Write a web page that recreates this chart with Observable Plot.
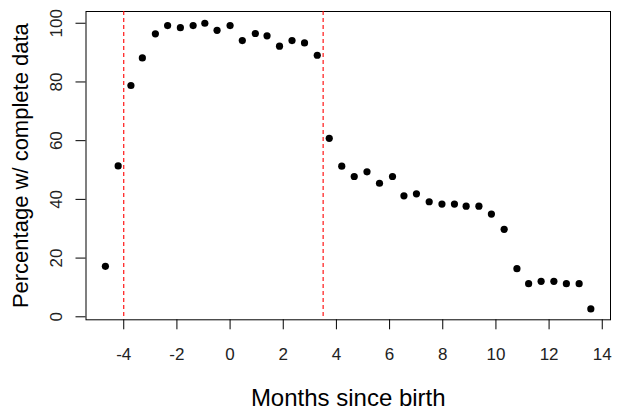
<!DOCTYPE html>
<html>
<head>
<meta charset="utf-8">
<script src="https://cdn.jsdelivr.net/npm/d3@7"></script>
<script src="https://cdn.jsdelivr.net/npm/@observablehq/plot@0.6"></script>
<style>
  html, body { margin: 0; padding: 0; background: #fff; }
  #chart svg { font-family: "Liberation Sans", Arial, sans-serif; }
  g[aria-label="x-axis label"] { font-size: 24px; fill: #000; }
  g[aria-label="y-axis label"] { font-size: 22px; fill: #000; }
</style>
</head>
<body>
<div id="chart"></div>
<script>
const months = [-4.69, -4.21, -3.73, -3.30, -2.81, -2.35, -1.87, -1.39, -0.95, -0.49,
  0.00, 0.46, 0.95, 1.39, 1.86, 2.33, 2.80, 3.28, 3.73, 4.20,
  4.67, 5.15, 5.62, 6.11, 6.54, 7.01, 7.49, 7.97, 8.44, 8.88,
  9.36, 9.83, 10.31, 10.79, 11.23, 11.70, 12.18, 12.65, 13.13, 13.57];
const percentComplete = [17.2, 51.4, 78.8, 88.2, 96.4, 99.2, 98.5, 99.2, 100.0, 97.6,
  99.2, 94.1, 96.5, 95.7, 92.2, 94.1, 93.3, 89.1, 60.8, 51.3,
  47.8, 49.4, 45.5, 47.8, 41.2, 41.9, 39.2, 38.4, 38.4, 37.7,
  37.7, 35.0, 29.8, 16.4, 11.3, 12.1, 12.1, 11.3, 11.3, 2.7];
const cutoffs = [-4, 3.5];
const xTicks = [-4, -2, 0, 2, 4, 6, 8, 10, 12, 14];
const yTicks = [0, 20, 40, 60, 80, 100];

const data = months.map((m, i) => ({month: m, pct: percentComplete[i]}));

const chart = Plot.plot({
  width: 622,
  height: 414,
  marginLeft: 85.5,
  marginRight: 12,
  marginTop: 11,
  marginBottom: 94.7,
  x: {domain: [-5.42, 14.31]},
  y: {domain: [-1.02, 104.0]},
  marks: [
    Plot.frame({stroke: "#000", strokeWidth: 1}),
    Plot.ruleX(cutoffs, {stroke: "#ff0000", strokeDasharray: "4,3", strokeWidth: 1.1}),
    Plot.dot(data, {x: "month", y: "pct", r: 3.6, fill: "#000", stroke: "none"}),
    Plot.axisX({ticks: xTicks, tickFormat: d => String(d), tickSize: 10, tickPadding: 18, fontSize: 17, fill: "#222",
      label: "Months since birth", labelAnchor: "center", labelArrow: "none", labelOffset: 86}),
    Plot.axisY({ticks: yTicks, tickFormat: d => String(d), tickSize: 10, tickPadding: 14, tickRotate: -90, fontSize: 17, fill: "#222",
      label: "Percentage w/ complete data", labelAnchor: "center", labelArrow: "none", labelOffset: 74})
  ]
});
document.getElementById("chart").appendChild(chart);
</script>
</body>
</html>
